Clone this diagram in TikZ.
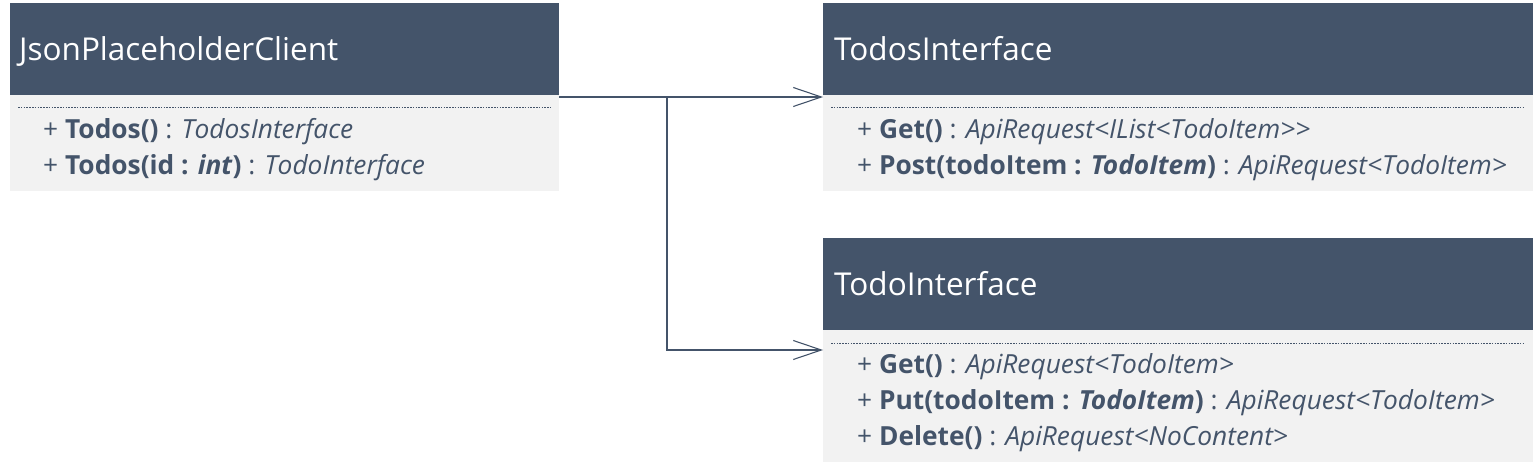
\documentclass[tikz,border=0pt]{standalone}
\usepackage{fontspec}
\setmainfont{Open Sans}
\usetikzlibrary{arrows.meta,calc}
\definecolor{hdrcol}{HTML}{44546A}
\definecolor{bodycol}{HTML}{F2F2F2}
\definecolor{txtcol}{HTML}{44546A}
\tikzset{
  hdr/.style={fill=hdrcol, draw=none, anchor=north west, inner sep=0pt, minimum height=92pt},
  bodybox/.style={fill=bodycol, draw=none, anchor=north west, inner sep=0pt},
  title/.style={anchor=base west, inner sep=0pt, text=white, font=\fontsize{31.5pt}{36pt}\selectfont},
  member/.style={anchor=base west, inner sep=0pt, text=txtcol, font=\fontsize{26.3pt}{30pt}\selectfont},
  sep/.style={draw=txtcol, line width=0.7pt, dash pattern=on 1.6pt off 1.2pt},
  conn/.style={draw=txtcol, line width=1.1pt},
  realize/.style={conn, -{Straight Barb[length=28pt, width=19pt, line width=1.1pt]}}
}
\begin{document}
\begin{tikzpicture}[x=1pt,y=-1pt]
\useasboundingbox (0,0) rectangle (1537,470);
% JsonPlaceholderClient
\node[bodybox, minimum width=549pt, minimum height=96pt] (b1) at (10,95) {};
\node[hdr, minimum width=549pt] (h1) at (10,3) {};
\node[title] (t1) at (19,61) {JsonPlaceholderClient};
\draw[sep] (18,107) -- (551,107);
\node[member] (m11) at (43,138.5) {+ \textbf{Todos()} : \textit{TodosInterface}};
\node[member] (m12) at (43,174.5) {+ \textbf{Todos(id : \textit{int})} : \textit{TodoInterface}};
% TodosInterface
\node[bodybox, minimum width=710pt, minimum height=96pt] (b2) at (823,95) {};
\node[hdr, minimum width=710pt] (h2) at (823,3) {};
\node[title] (t2) at (834,61) {TodosInterface};
\draw[sep] (831,107) -- (1525,107);
\node[member] (m21) at (857,138.5) {+ \textbf{Get()} : \textit{ApiRequest<IList<TodoItem>{}>}};
\node[member] (m22) at (857,174.5) {+ \textbf{Post(todoItem : \textit{TodoItem})} : \textit{ApiRequest<TodoItem>}};
% TodoInterface
\node[bodybox, minimum width=710pt, minimum height=132pt] (b3) at (823,330) {};
\node[hdr, minimum width=710pt] (h3) at (823,238) {};
\node[title] (t3) at (834,296) {TodoInterface};
\draw[sep] (831,343) -- (1525,343);
\node[member] (m31) at (857,373.5) {+ \textbf{Get()} : \textit{ApiRequest<TodoItem>}};
\node[member] (m32) at (857,409.5) {+ \textbf{Put(todoItem : \textit{TodoItem})} : \textit{ApiRequest<TodoItem>}};
\node[member] (m33) at (857,445.5) {+ \textbf{Delete()} : \textit{ApiRequest<NoContent>}};
% connectors
\coordinate (j) at (667,97);
\draw[realize] ([yshift=-2pt]b1.north east) -- ([yshift=-2pt]b2.north west);
\draw[realize] (j) |- ([yshift=-20pt]b3.north west);
\end{tikzpicture}
\end{document}
